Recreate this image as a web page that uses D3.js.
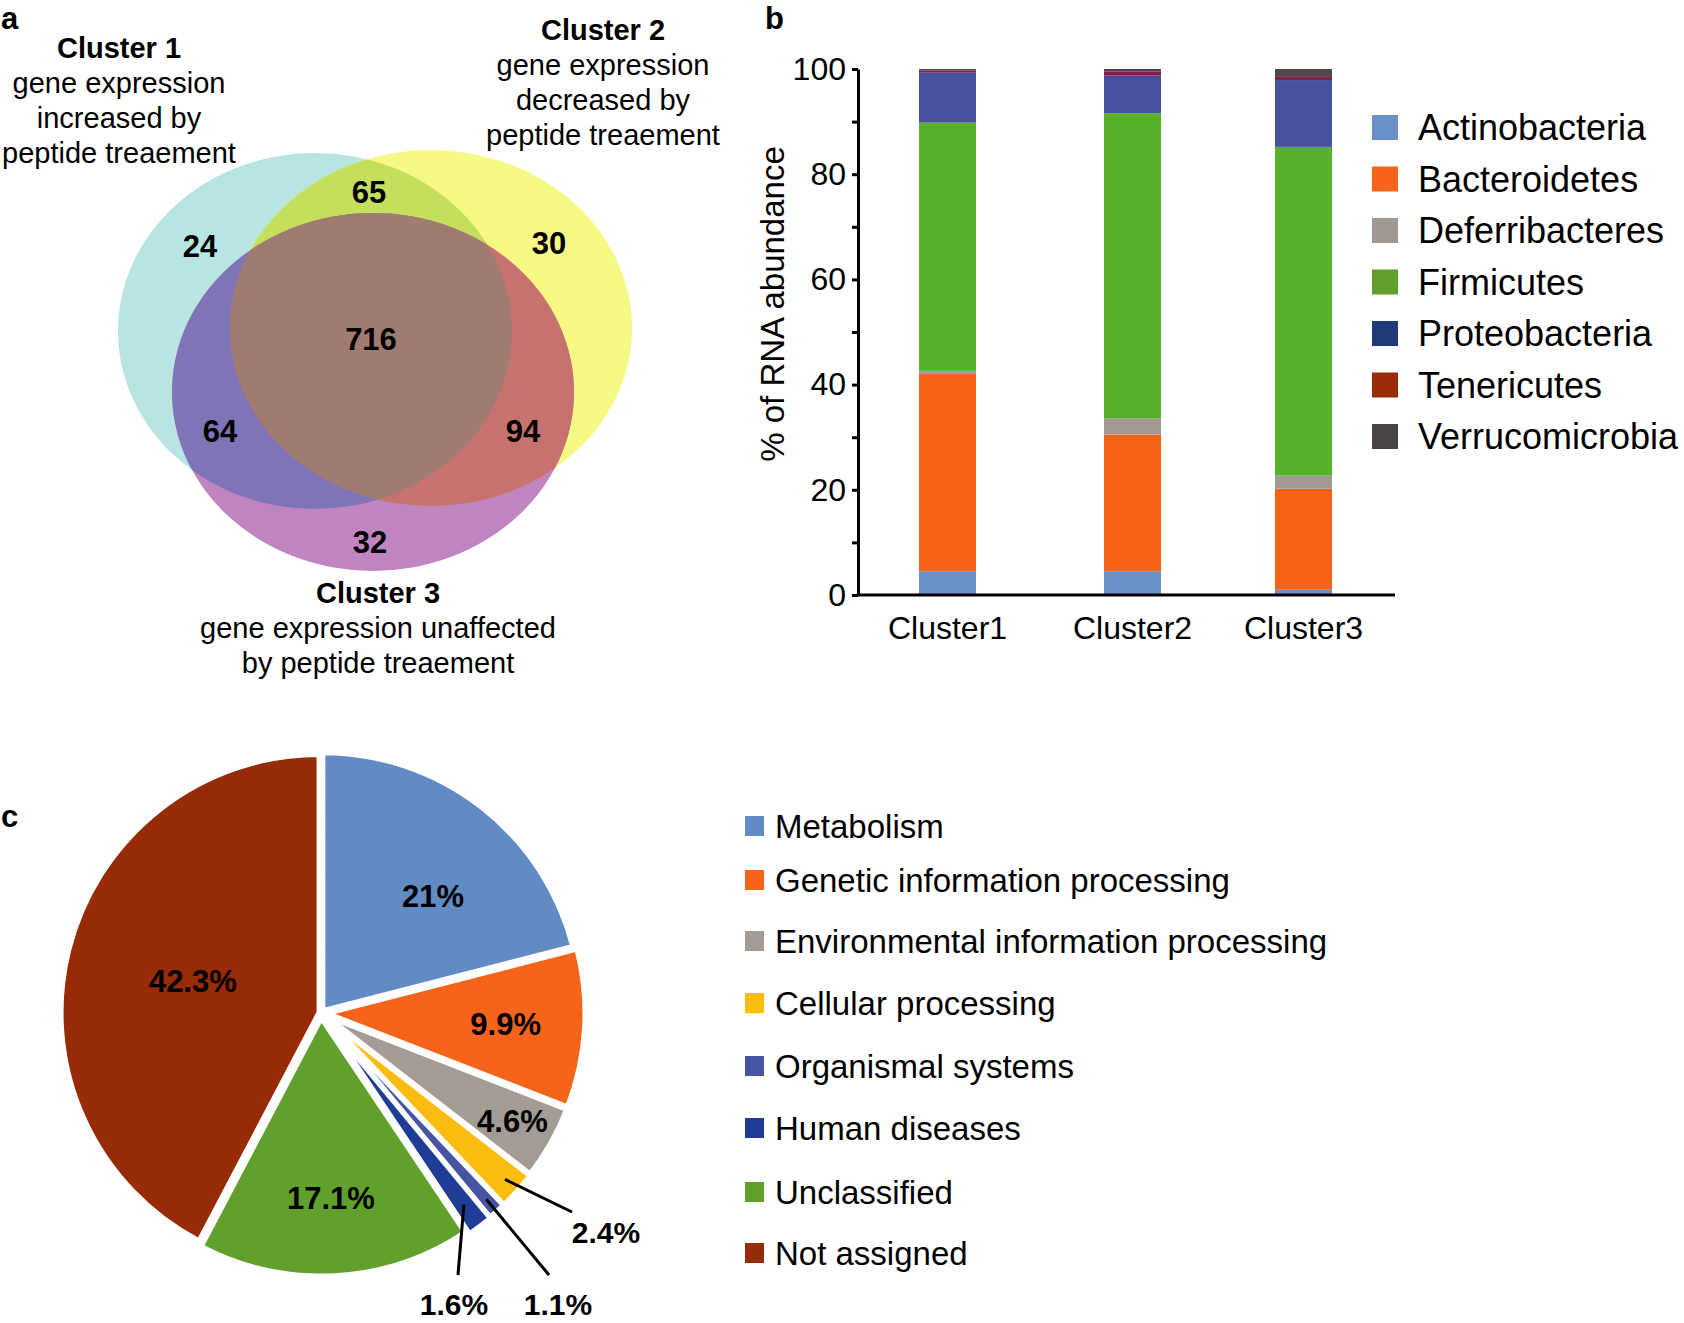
<!DOCTYPE html>
<html>
<head>
<meta charset="utf-8">
<script src="https://d3js.org/d3.v7.min.js"></script>
<style>
  body { margin: 0; background: #fff; }
  text { font-family: "Liberation Sans", Arial, sans-serif; fill: #000; }
</style>
</head>
<body>
<svg id="fig"></svg>
<script>
// ---- panel a: venn ----
var vennTitles = ["Cluster 1", "Cluster 2", "Cluster 3"];
var vennCaptions = [
  ["gene expression", "increased by", "peptide treaement"],
  ["gene expression", "decreased by", "peptide treaement"],
  ["gene expression unaffected", "by peptide treaement"]
];
// regions: only1, only2, only3, 1&2, 1&3, 2&3, all three
var vennRegions = ["1", "2", "3", "12", "13", "23", "123"];
var vennCounts = [24, 30, 32, 65, 64, 94, 716];

// ---- panel b: stacked bars ----
var clusters = ["Cluster1", "Cluster2", "Cluster3"];
var phyla = ["Actinobacteria", "Bacteroidetes", "Deferribacteres", "Firmicutes", "Proteobacteria", "Tenericutes", "Verrucomicrobia"];
var actinobacteria = [4.5, 4.5, 1.0];
var bacteroidetes = [37.5, 26.0, 19.2];
var deferribacteres = [0.6, 3.1, 2.5];
var firmicutes = [47.2, 58.0, 62.5];
var proteobacteria = [9.5, 7.15, 12.7];
var tenericutes = [0.4, 0.8, 0.6];
var verrucomicrobia = [0.3, 0.45, 1.5];
var yTicks = [0, 10, 20, 30, 40, 50, 60, 70, 80, 90, 100];

// ---- panel c: pie ----
var functions = ["Metabolism", "Genetic information processing", "Environmental information processing",
  "Cellular processing", "Organismal systems", "Human diseases", "Unclassified", "Not assigned"];
var shares = [21, 9.9, 4.6, 2.4, 1.1, 1.6, 17.1, 42.3];
var shareLabels = ["21%", "9.9%", "4.6%", "2.4%", "1.1%", "1.6%", "17.1%", "42.3%"];

// colours
var vennFill = { "1": "#b8e4e2", "2": "#f6f984", "3": "#c084c0", "12": "#c3df5c", "13": "#7f74b8", "23": "#c87270", "123": "#a07b72" };
var barColors = ["#6a90c8", "#f76316", "#a29a93", "#58b12a", "#46529f", "#8a1a4e", "#4e4648"];
var barLegendColors = ["#6a90c8", "#f7631a", "#a09992", "#5fa02a", "#1e3a7a", "#992b0a", "#4b4445"];
var pieColors = ["#628ac3", "#f5641a", "#a39c95", "#fdbd10", "#4753a4", "#1f3d96", "#60a02b", "#962b05"];

var W = 1684, H = 1323;
var svg = d3.select("#fig").attr("width", W).attr("height", H);

function panelLetter(t, x, y) {
  svg.append("text").attr("x", x).attr("y", y).attr("font-size", 31).attr("font-weight", "bold").text(t);
}
panelLetter("a", 1, 29);
panelLetter("b", 765, 29);
panelLetter("c", 1, 827);

// ================= Venn =================
var ell = [
  { cx: 315, cy: 331, rx: 197, ry: 178 },
  { cx: 431, cy: 328, rx: 201, ry: 178 },
  { cx: 373, cy: 392, rx: 201, ry: 179 }
];
var defs = svg.append("defs");
ell.forEach(function (e, i) {
  defs.append("clipPath").attr("id", "clip" + (i + 1))
    .append("ellipse").attr("cx", e.cx).attr("cy", e.cy).attr("rx", e.rx).attr("ry", e.ry);
});
// clip for 1∩2
defs.append("clipPath").attr("id", "clip12").attr("clip-path", "url(#clip1)")
  .append("ellipse").attr("cx", ell[1].cx).attr("cy", ell[1].cy).attr("rx", ell[1].rx).attr("ry", ell[1].ry);

var venn = svg.append("g");
function drawEll(i, fill, clip) {
  var e = ell[i];
  var el = venn.append("ellipse").attr("cx", e.cx).attr("cy", e.cy).attr("rx", e.rx).attr("ry", e.ry).attr("fill", fill);
  if (clip) el.attr("clip-path", "url(#" + clip + ")");
}
drawEll(0, vennFill["1"]);
drawEll(1, vennFill["2"]);
drawEll(2, vennFill["3"]);
drawEll(1, vennFill["12"], "clip1");
drawEll(2, vennFill["13"], "clip1");
drawEll(2, vennFill["23"], "clip2");
drawEll(2, vennFill["123"], "clip12");

var vennLabelPos = { "1": [200, 257], "2": [549, 254], "3": [370, 553], "12": [369, 203], "13": [220, 442], "23": [523, 442], "123": [371, 350] };
venn.selectAll("text.count").data(vennRegions).enter().append("text")
  .attr("class", "count")
  .attr("x", function (d) { return vennLabelPos[d][0]; })
  .attr("y", function (d) { return vennLabelPos[d][1]; })
  .attr("text-anchor", "middle").attr("font-size", 31).attr("font-weight", "bold")
  .text(function (d, i) { return vennCounts[i]; });

var titlePos = [[119, 58], [603, 40], [378, 603]];
vennTitles.forEach(function (t, i) {
  var g = venn.append("g");
  g.append("text").attr("x", titlePos[i][0]).attr("y", titlePos[i][1])
    .attr("text-anchor", "middle").attr("font-size", 29).attr("font-weight", "bold").text(t);
  vennCaptions[i].forEach(function (line, j) {
    g.append("text").attr("x", titlePos[i][0]).attr("y", titlePos[i][1] + 35 * (j + 1))
      .attr("text-anchor", "middle").attr("font-size", 29).text(line);
  });
});

// ================= Stacked bars =================
var table = clusters.map(function (c, i) {
  return {
    cluster: c,
    Actinobacteria: actinobacteria[i], Bacteroidetes: bacteroidetes[i], Deferribacteres: deferribacteres[i],
    Firmicutes: firmicutes[i], Proteobacteria: proteobacteria[i], Tenericutes: tenericutes[i], Verrucomicrobia: verrucomicrobia[i]
  };
});
var stacked = d3.stack().keys(phyla)(table);

var y = d3.scaleLinear().domain([0, 100]).range([595, 69]);
var x = d3.scaleOrdinal().domain(clusters).range([947.5, 1132.5, 1303.5]);
var barW = 57;
var axisX = 858;

var bars = svg.append("g");
bars.selectAll("g.series").data(stacked).enter().append("g")
  .attr("fill", function (d, i) { return barColors[i]; })
  .selectAll("rect").data(function (d) { return d; }).enter().append("rect")
  .attr("x", function (d) { return x(d.data.cluster) - barW / 2; })
  .attr("width", barW)
  .attr("y", function (d) { return y(d[1]); })
  .attr("height", function (d) { return y(d[0]) - y(d[1]); });

var yAxis = svg.append("g").attr("transform", "translate(" + axisX + ",0)")
  .call(d3.axisLeft(y).tickValues(yTicks).tickSize(6).tickSizeOuter(0).tickPadding(6)
    .tickFormat(function (d) { return d % 20 === 0 ? d : ""; }));
yAxis.select(".domain").attr("stroke", "#000").attr("stroke-width", 3);
yAxis.selectAll(".tick line").attr("stroke", "#000").attr("stroke-width", 3);
yAxis.selectAll(".tick text").attr("font-size", 32).attr("font-family", "Liberation Sans, Arial, sans-serif").attr("fill", "#000");

svg.append("line").attr("x1", axisX - 1.5).attr("x2", 1395).attr("y1", y(0)).attr("y2", y(0))
  .attr("stroke", "#000").attr("stroke-width", 3);

svg.selectAll("text.xlab").data(clusters).enter().append("text")
  .attr("class", "xlab")
  .attr("x", function (d) { return x(d); }).attr("y", 639)
  .attr("text-anchor", "middle").attr("font-size", 32).text(function (d) { return d; });

svg.append("text").attr("transform", "translate(784,304) rotate(-90)")
  .attr("text-anchor", "middle").attr("font-size", 33).text("% of RNA abundance");

var legB = svg.append("g").selectAll("g").data(phyla).enter().append("g")
  .attr("transform", function (d, i) { return "translate(1372," + (115 + i * 51.5) + ")"; });
legB.append("rect").attr("width", 26).attr("height", 25).attr("fill", function (d, i) { return barLegendColors[i]; });
legB.append("text").attr("x", 46).attr("y", 12.5).attr("dy", "0.35em").attr("font-size", 36).text(function (d) { return d; });

// ================= Pie =================
var pc = [321, 1013], R = 258;
var explode = [3, 6, 6, 7, 7, 8, 5, 2];
var labelR = [162, 185, 220, 0, 0, 0, 185, 132];
var labelTurn = [6, 0, 0, 0, 0, 0, 0, 0]; // degrees off the slice bisector
var arcs = d3.pie().sort(null).value(function (d) { return d; })(shares);
var arc = d3.arc().innerRadius(0).outerRadius(R);
function mid(a) { return (a.startAngle + a.endAngle) / 2; }

var pie = svg.append("g").attr("transform", "translate(" + pc[0] + "," + pc[1] + ")");
pie.selectAll("path").data(arcs).enter().append("path")
  .attr("transform", function (d, i) {
    var m = mid(d);
    return "translate(" + (Math.sin(m) * explode[i]) + "," + (-Math.cos(m) * explode[i]) + ")";
  })
  .attr("d", arc)
  .attr("fill", function (d, i) { return pieColors[i]; })
  .attr("stroke", "#fff").attr("stroke-width", 5).attr("stroke-linejoin", "miter");

// inside labels
function labAng(d) { return mid(d) + labelTurn[d.index] * Math.PI / 180; }
pie.selectAll("text.in").data(arcs.filter(function (d, i) { return labelR[i] > 0; })).enter().append("text")
  .attr("class", "in")
  .attr("x", function (d) { return Math.sin(labAng(d)) * labelR[d.index]; })
  .attr("y", function (d) { return -Math.cos(labAng(d)) * labelR[d.index]; })
  .attr("dy", "0.35em").attr("text-anchor", "middle")
  .attr("font-size", 31).attr("font-weight", "bold")
  .text(function (d) { return shareLabels[d.index]; });

// outside labels with leader lines: start radius, line end and label centre, relative to pie centre
var callouts = { 3: { r0: 248, end: [251, 199], lab: [285, 219] }, 4: { r0: 249, end: [228, 262], lab: [237, 291] }, 5: { r0: 239, end: [137, 262], lab: [133, 291] } };
Object.keys(callouts).forEach(function (k) {
  var a = arcs[+k], c = callouts[k], m = mid(a);
  pie.append("line")
    .attr("x1", Math.sin(m) * c.r0).attr("y1", -Math.cos(m) * c.r0)
    .attr("x2", c.end[0]).attr("y2", c.end[1])
    .attr("stroke", "#000").attr("stroke-width", 3);
  pie.append("text").attr("x", c.lab[0]).attr("y", c.lab[1]).attr("dy", "0.35em")
    .attr("text-anchor", "middle").attr("font-size", 30).attr("font-weight", "bold")
    .text(shareLabels[+k]);
});

var ly = d3.scaleOrdinal().domain(functions).range([826, 880, 941, 1003, 1066, 1128, 1192, 1253]);
var legC = svg.append("g").selectAll("g").data(functions).enter().append("g")
  .attr("transform", function (d) { return "translate(745," + ly(d) + ")"; });
legC.append("rect").attr("y", -10).attr("width", 19).attr("height", 20).attr("fill", function (d, i) { return pieColors[i]; });
legC.append("text").attr("x", 30).attr("dy", "0.35em").attr("font-size", 33).text(function (d) { return d; });
</script>
</body>
</html>
